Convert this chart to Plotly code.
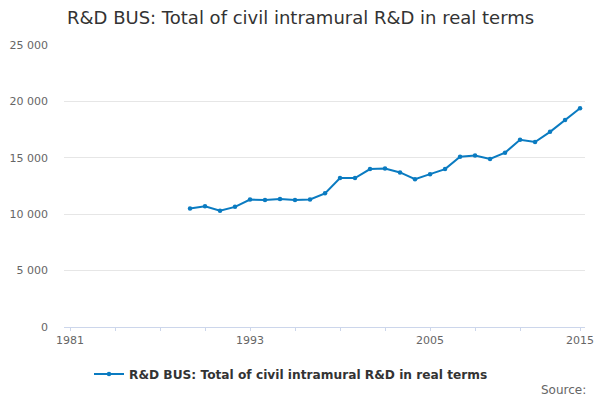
import plotly.graph_objects as go

years = list(range(1989, 2016))
values = [10500, 10700, 10300, 10650, 11300, 11250, 11350, 11250, 11300, 11850,
          13200, 13200, 14000, 14050, 13700, 13100, 13550, 14000, 15100, 15200,
          14900, 15450, 16600, 16400, 17300, 18350, 19400]

x_tickvals = [1981, 1984, 1987, 1990, 1993, 1996, 1999, 2002, 2005, 2008, 2011, 2015]
x_ticktext = ["1981", "", "", "", "1993", "", "", "", "2005", "", "", "2015"]
y_tickvals = [0, 5000, 10000, 15000, 20000, 25000]
y_ticktext = ["0", "5 000", "10 000", "15 000", "20 000", "25 000"]

series_name = "R&D BUS: Total of civil intramural R&D in real terms"
color = "#0a7bc1"
font = "DejaVu Sans"
x_range = [1980.6, 2015.33]

fig = go.Figure()
fig.add_trace(go.Scatter(
    x=years, y=values, mode="lines+markers", name=series_name,
    line=dict(color=color, width=2),
    marker=dict(color=color, size=4.5, symbol="circle"),
))

fig.update_layout(
    width=600, height=400,
    margin=dict(l=64, r=15, t=45, b=73),
    paper_bgcolor="white", plot_bgcolor="white",
    font=dict(family=font, color="#666666", size=11),
    title=dict(text=series_name, x=67/600, xanchor="left", y=1-18/400, yanchor="middle",
               font=dict(family=font, size=18, color="#333333")),
    showlegend=True,
    legend=dict(orientation="h", xref="container", x=291/600, xanchor="center",
                yref="container", y=1-374/400, yanchor="middle",
                font=dict(family=font, size=12.2, color="#333333", weight="bold"),
                itemwidth=30),
    xaxis=dict(range=x_range, tickmode="array", tickvals=x_tickvals, ticktext=x_ticktext,
               showgrid=False, zeroline=False, showline=True, linecolor="#ccd6eb", linewidth=1,
               ticks="outside", ticklen=3, tickcolor="#ccd6eb", tickwidth=1,
               tickfont=dict(size=11, color="#666666"), automargin=False),
    xaxis2=dict(range=x_range, overlaying="x", anchor="y", side="bottom",
                tickmode="array", tickvals=x_tickvals, showticklabels=False,
                showgrid=False, zeroline=False, showline=False,
                ticks="outside", ticklen=9, tickcolor="#ccd6eb", tickwidth=1, automargin=False),
    yaxis=dict(range=[0, 25000], tickmode="array", tickvals=y_tickvals, ticktext=y_ticktext,
               showgrid=True, gridcolor="#e6e6e6", gridwidth=1, zeroline=False, showline=False,
               ticks="", ticklabelstandoff=15, tickfont=dict(size=11, color="#666666"),
               automargin=False),
)
fig.layout.annotations = [dict(text="Source:", xref="paper", yref="paper", x=1.0 + 3/521,
                               y=-(390-327)/282, xanchor="right", yanchor="middle", showarrow=False,
                               font=dict(family=font, size=12, color="#666666"))]

fig.write_html("out.html", config={"displayModeBar": False},
               post_script="document.body.style.margin='0';")
